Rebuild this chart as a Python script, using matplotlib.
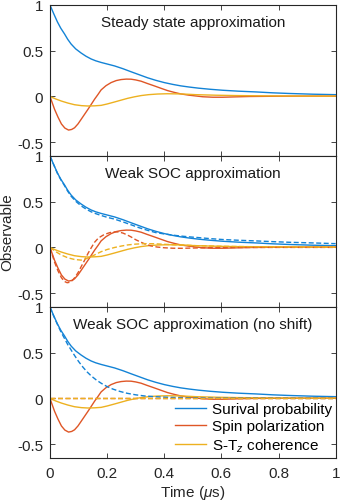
import matplotlib
matplotlib.use("Agg")
import matplotlib.pyplot as plt

plt.rcParams['font.family'] = ['Liberation Sans', 'DejaVu Sans']
plt.rcParams['mathtext.fontset'] = 'custom'
plt.rcParams['mathtext.rm'] = 'Liberation Sans'
plt.rcParams['mathtext.it'] = 'Liberation Sans:italic'
plt.rcParams['axes.unicode_minus'] = False

# ---- exact curves (solid, same in every panel) ----
t_surv = [0, 0.013, 0.026, 0.038, 0.051, 0.062, 0.074, 0.09, 0.109, 0.126, 0.144, 0.16,
          0.179, 0.2, 0.226, 0.255, 0.284, 0.313, 0.342, 0.37, 0.40, 0.43, 0.458, 0.488,
          0.52, 0.56, 0.605, 0.66, 0.72, 0.78, 0.837, 0.92, 1.0]
surv = [1.0, 0.905, 0.815, 0.745, 0.683, 0.625, 0.573, 0.52, 0.475, 0.44, 0.41, 0.39,
        0.372, 0.355, 0.334, 0.304, 0.27, 0.237, 0.204, 0.177, 0.152, 0.132, 0.116, 0.103,
        0.091, 0.079, 0.068, 0.058, 0.05, 0.04, 0.033, 0.025, 0.02]

t_pol = [0, 0.008, 0.016, 0.028, 0.04, 0.052, 0.065, 0.076, 0.086, 0.098, 0.109, 0.121,
         0.133, 0.145, 0.156, 0.168, 0.179, 0.196, 0.214, 0.232, 0.249, 0.267, 0.284, 0.30,
         0.319, 0.34, 0.365, 0.39, 0.412, 0.435, 0.458, 0.485, 0.51, 0.535, 0.57, 0.605,
         0.65, 0.7, 0.8, 0.9, 1.0]
pol = [0, -0.07, -0.14, -0.225, -0.30, -0.345, -0.367, -0.36, -0.342, -0.30, -0.25, -0.195,
       -0.14, -0.083, -0.03, 0.022, 0.072, 0.118, 0.152, 0.174, 0.185, 0.19, 0.189, 0.181,
       0.167, 0.143, 0.116, 0.088, 0.064, 0.045, 0.028, 0.015, 0.006, -0.003, -0.008, -0.008,
       -0.004, 0.0, 0.003, 0.004, 0.004]

t_coh = [0, 0.02, 0.04, 0.063, 0.086, 0.11, 0.133, 0.156, 0.179, 0.2, 0.226, 0.25, 0.272,
         0.295, 0.319, 0.345, 0.377, 0.41, 0.458, 0.51, 0.58, 0.65, 0.75, 0.87, 1.0]
coh = [0, -0.027, -0.05, -0.072, -0.09, -0.1, -0.104, -0.102, -0.097, -0.082, -0.06, -0.039,
       -0.02, -0.004, 0.01, 0.02, 0.027, 0.03, 0.028, 0.02, 0.014, 0.01, 0.007, 0.005, 0.004]

# ---- weak SOC approximation (dashed, middle panel) ----
t_surv_w = [0, 0.013, 0.026, 0.038, 0.051, 0.062, 0.074, 0.09, 0.109, 0.126, 0.144, 0.16,
            0.179, 0.2, 0.226, 0.255, 0.284, 0.313, 0.342, 0.37, 0.40, 0.43, 0.458, 0.488,
            0.52, 0.56, 0.605, 0.66, 0.72, 0.78, 0.837, 0.92, 1.0]
surv_w = [1.0, 0.905, 0.81, 0.74, 0.675, 0.615, 0.56, 0.505, 0.455, 0.42, 0.39, 0.37,
          0.35, 0.33, 0.31, 0.28, 0.248, 0.215, 0.187, 0.163, 0.148, 0.135, 0.125, 0.116,
          0.108, 0.097, 0.087, 0.079, 0.072, 0.064, 0.057, 0.05, 0.042]

t_pol_w = [0, 0.008, 0.016, 0.028, 0.04, 0.05, 0.06, 0.07, 0.08, 0.09, 0.1, 0.109, 0.121,
           0.133, 0.145, 0.156, 0.17, 0.19, 0.21, 0.226, 0.24, 0.255, 0.27, 0.284, 0.30,
           0.319, 0.335, 0.354, 0.375, 0.40, 0.43, 0.46, 0.5, 0.55, 0.65, 0.8, 1.0]
pol_w = [0, -0.08, -0.16, -0.255, -0.33, -0.37, -0.385, -0.38, -0.355, -0.315, -0.265,
         -0.21, -0.14, -0.065, 0.0, 0.057, 0.105, 0.142, 0.163, 0.17, 0.17, 0.158, 0.138,
         0.115, 0.085, 0.057, 0.035, 0.017, 0.005, -0.003, -0.008, -0.009, -0.006, -0.003,
         0.0, 0.001, 0.001]

t_coh_w = [0, 0.02, 0.04, 0.063, 0.086, 0.109, 0.125, 0.144, 0.16, 0.179, 0.2, 0.226, 0.25,
           0.272, 0.3, 0.33, 0.365, 0.4, 0.45, 0.51, 0.6, 0.7, 0.85, 1.0]
coh_w = [0, -0.045, -0.083, -0.113, -0.131, -0.138, -0.125, -0.10, -0.075, -0.046, -0.022,
         0.0, 0.016, 0.028, 0.037, 0.042, 0.041, 0.035, 0.028, 0.02, 0.013, 0.009, 0.006, 0.004]

# ---- weak SOC approximation, no shift (dashed, bottom panel) ----
t_surv_n = [0, 0.013, 0.026, 0.038, 0.051, 0.062, 0.074, 0.086, 0.1, 0.116, 0.13, 0.145,
            0.163, 0.18, 0.2, 0.22, 0.245, 0.27, 0.3, 0.33, 0.37, 0.42, 0.5, 0.6, 0.8, 1.0]
surv_n = [1.0, 0.9, 0.81, 0.73, 0.655, 0.59, 0.53, 0.47, 0.405, 0.34, 0.29, 0.245,
          0.2, 0.165, 0.13, 0.103, 0.077, 0.057, 0.04, 0.028, 0.019, 0.012, 0.007, 0.004,
          0.002, 0.001]
t_flat = [0, 1.0]
pol_n = [0, 0]
coh_n = [0, 0]

titles = ['Steady state approximation', 'Weak SOC approximation',
          'Weak SOC approximation (no shift)']
labels = ['Surival probability', 'Spin polarization', 'S-T$_z$ coherence']
xticks = [0, 0.2, 0.4, 0.6, 0.8, 1]
xticklabels = ['0', '0.2', '0.4', '0.6', '0.8', '1']
yticks = [-0.5, 0, 0.5, 1]
yticklabels = ['-0.5', '0', '0.5', '1']

blue = '#1383d6'
orange = '#df5626'
yellow = '#edb120'
axcol = '#262626'
dash = (0, (3.6, 1.8))
fs = 11

fig = plt.figure(figsize=(3.54, 5.02), dpi=100)
left, width, height = 0.1412, 0.807, 0.3008
bottoms = [0.6873, 0.3865, 0.0857]

dashed = [None,
          [(t_surv_w, surv_w, blue), (t_pol_w, pol_w, orange), (t_coh_w, coh_w, yellow)],
          [(t_surv_n, surv_n, blue), (t_flat, pol_n, orange), (t_flat, coh_n, yellow)]]

axes = []
for i in range(3):
    ax = fig.add_axes([left, bottoms[i], width, height])
    l1, = ax.plot(t_surv, surv, color=blue, lw=1.0)
    l2, = ax.plot(t_pol, pol, color=orange, lw=1.0)
    l3, = ax.plot(t_coh, coh, color=yellow, lw=1.0)
    if dashed[i] is not None:
        for tt, yy, c in dashed[i]:
            ax.plot(tt, yy, color=c, lw=1.0, ls=dash)
    ax.set_xlim(0, 1)
    ax.set_ylim(-0.65, 1)
    ax.set_xticks(xticks)
    ax.set_yticks(yticks)
    ax.set_yticklabels(yticklabels)
    if i == 2:
        ax.set_xticklabels(xticklabels)
    else:
        ax.set_xticklabels([])
    ax.tick_params(direction='in', top=True, right=True, length=3.5, width=0.6,
                   colors=axcol, labelsize=fs)
    ax.tick_params(axis='x', pad=6)
    ax.tick_params(axis='y', pad=5)
    for s in ax.spines.values():
        s.set_color(axcol)
        s.set_linewidth(0.8)
    ax.text(0.5, 0.86, titles[i], transform=ax.transAxes, ha='center',
            va='baseline', fontsize=fs, color='#1a1a1a')
    axes.append(ax)

axes[2].legend([l1, l2, l3], labels, loc='lower right', frameon=False, fontsize=fs,
               handlelength=2.0, handletextpad=0.4, labelspacing=0.22,
               borderaxespad=0.05, borderpad=0.2)

fig.text(0.02, 0.538, 'Observable', rotation=90, ha='center', va='center',
         fontsize=fs, color=axcol)
fig.text(left + width / 2, 0.018, r'Time ($\mu$s)', ha='center', va='center',
         fontsize=fs, color=axcol)

fig.savefig('out.png', dpi=100)
